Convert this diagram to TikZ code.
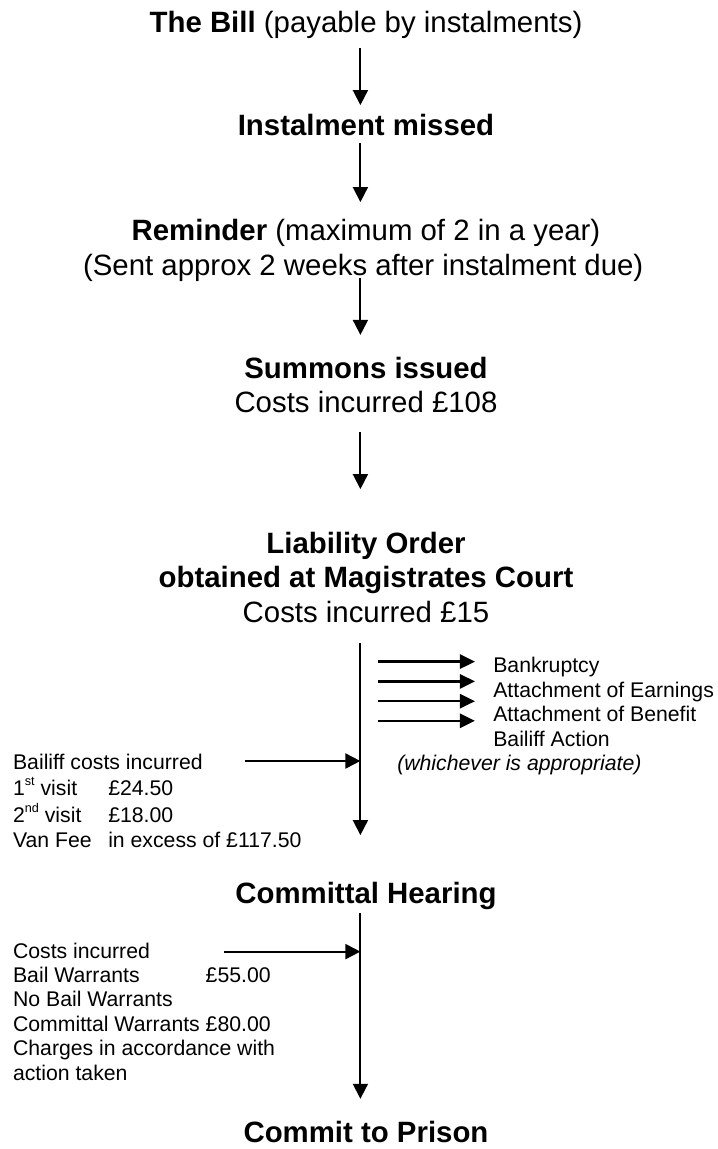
\documentclass[tikz,border=0pt]{standalone}
\usepackage{fontspec}
\setmainfont{Liberation Sans}
\usetikzlibrary{arrows.meta}

\tikzset{
    big/.style={font=\fontsize{20.9}{24.5}\selectfont, inner sep=0pt, anchor=base},
    small/.style={font=\fontsize{15.1}{17.4}\selectfont, inner sep=0pt, anchor=base west},
    flow/.style={line width=1.3pt, -{Triangle[length=10.7pt,width=10.7pt]}},
    side/.style={line width=1.8pt, -{Triangle[length=10.7pt,width=10pt]}}
}
\newcommand{\sups}[1]{\raisebox{0.5em}{\fontsize{9}{9}\selectfont #1}}

\begin{document}
\begin{tikzpicture}
    \useasboundingbox (0,0) rectangle (17.925,-28.725);
    \coordinate (col) at (9.01,0);

    \node[big] (bill) at (9.15,-0.8125) {\textbf{The Bill} (payable by instalments)};
    \node[big] (missed) at (9.15,-3.3875) {\textbf{Instalment missed}};
    \node[big] (remind) at (9.15,-6.0125) {\textbf{Reminder} (maximum of 2 in a year)};
    \node[big] (sent) at (9.08,-6.8875) {(Sent approx 2 weeks after instalment due)};
    \node[big] (summons) at (9.15,-9.4625) {\textbf{Summons issued}};
    \node[big] (cost108) at (9.15,-10.3125) {Costs incurred £108};
    \node[big] (liab) at (9.15,-13.8375) {\textbf{Liability Order}};
    \node[big] (court) at (9.15,-14.6875) {\textbf{obtained at Magistrates Court}};
    \node[big] (cost15) at (9.15,-15.5625) {Costs incurred £15};
    \node[big] (hearing) at (9.15,-22.5875) {\textbf{Committal Hearing}};
    \node[big] (prison) at (9.15,-28.55) {\textbf{Commit to Prison}};

    \draw[flow, shorten <=0.39cm, shorten >=0.76cm] (bill.base -| col) -- (missed.base -| col);
    \draw[flow, shorten <=0.19cm, shorten >=0.96cm] (missed.base -| col) -- (remind.base -| col);
    \draw[flow, shorten <=0.06cm, shorten >=1.09cm] (sent.base -| col) -- (summons.base -| col);
    \draw[flow, shorten <=0.49cm, shorten >=1.61cm] (cost108.base -| col) -- (liab.base -| col);
    \draw[flow, shorten <=0.51cm, shorten >=1.71cm] (cost15.base -| col) -- (hearing.base -| col);
    \draw[flow, shorten <=0.24cm, shorten >=1.08cm] (hearing.base -| col) -- (prison.base -| col);

    \foreach \txt [count=\i] in {Bankruptcy, Attachment of Earnings, Attachment of Benefit, Bailiff Action}
        \node[small] (opt\i) at (12.325,{-16.8125-0.6125*(\i-1)}) {\txt};
    \node[small] (which) at (9.925,-19.25) {\textit{(whichever is appropriate)}};
    \foreach \y [count=\i] in {-16.54,-17.035,-17.53,-18.02} {
        \coordinate (r\i) at (11.875,\y);
        \draw[side, shorten <=0.44cm] (col |- r\i) -- (r\i);
    }

    \node[small] (bailiff) at (0.32,-19.2375) {\begin{tabular}[t]{@{}p{2.38cm}@{}l@{}}
        \multicolumn{2}{@{}l@{}}{Bailiff costs incurred}\\
        1\sups{st} visit & £24.50\\
        2\sups{nd} visit & £18.00\\
        Van Fee & in excess of £117.50
    \end{tabular}};
    \coordinate (bfrom) at (6.125,-19.025);
    \draw[flow] (bfrom) -- (bfrom -| col);

    \node[small] (charges) at (0.32,-23.95) {\begin{tabular}[t]{@{}l@{\ }l@{}}
        Costs incurred & \\
        Bail Warrants & £55.00\\
        No Bail Warrants & \\
        Committal Warrants & £80.00\\
        \multicolumn{2}{@{}l@{}}{Charges in accordance with}\\
        \multicolumn{2}{@{}l@{}}{action taken}
    \end{tabular}};
    \coordinate (cfrom) at (5.6,-23.79);
    \draw[flow] (cfrom) -- (cfrom -| col);
\end{tikzpicture}
\end{document}
